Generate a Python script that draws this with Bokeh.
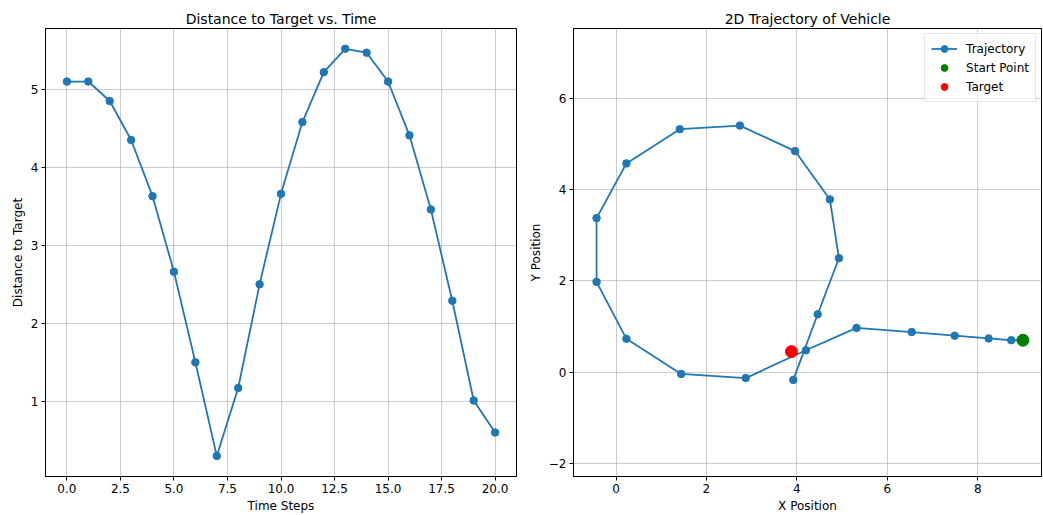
from bokeh.plotting import figure
from bokeh.layouts import row
from bokeh.models import FixedTicker, NumeralTickFormatter, CustomJSTickFormatter, Range1d
from bokeh.embed import file_html
from bokeh.resources import INLINE

# ---- data ----
time_steps = list(range(21))
distance = [5.10, 5.10, 4.85, 4.35, 3.63, 2.66, 1.50, 0.30, 1.17, 2.50, 3.66,
            4.58, 5.22, 5.52, 5.47, 5.10, 4.41, 3.46, 2.29, 1.01, 0.60]

traj_x = [9.00, 9.00, 8.74, 8.24, 7.49, 6.54, 5.32, 4.20, 2.87, 1.44, 0.23,
          -0.43, -0.43, 0.23, 1.41, 2.74, 3.96, 4.73, 4.93, 4.46, 3.92]
traj_y = [0.70, 0.70, 0.70, 0.74, 0.80, 0.88, 0.97, 0.48, -0.13, -0.04, 0.73,
          1.98, 3.38, 4.58, 5.33, 5.41, 4.85, 3.79, 2.50, 1.27, -0.17]

start_x = [9.00]
start_y = [0.70]
target_x = [3.88]
target_y = [0.45]

left_xticks = [0, 2.5, 5, 7.5, 10, 12.5, 15, 17.5, 20]
left_yticks = [1, 2, 3, 4, 5]
right_xticks = [0, 2, 4, 6, 8]
right_yticks = [-2, 0, 2, 4, 6]

FONT = "DejaVu Sans"
BLUE = "#1f77b4"


def style(p, xlabel, ylabel):
    p.title.text_font = FONT
    p.title.text_font_size = "14px"
    p.title.text_font_style = "normal"
    p.title.align = "center"
    p.title.standoff = 4
    p.title.text_color = "black"
    p.outline_line_color = "black"
    p.outline_line_width = 1
    p.outline_line_alpha = 1
    p.background_fill_color = "white"
    p.border_fill_color = "white"
    for ax in (p.xaxis[0], p.yaxis[0]):
        ax.axis_line_color = "black"
        ax.major_tick_line_color = "black"
        ax.major_tick_out = 4
        ax.major_tick_in = 0
        ax.minor_tick_line_color = None
        ax.major_label_text_font = FONT
        ax.major_label_text_font_size = "12px"
        ax.major_label_text_color = "black"
        ax.axis_label_text_font = FONT
        ax.axis_label_text_font_size = "12px"
        ax.axis_label_text_font_style = "normal"
        ax.axis_label_text_color = "black"
        ax.major_label_standoff = 3
        ax.axis_label_standoff = 3
    p.xaxis.axis_label = xlabel
    p.yaxis.axis_label = ylabel
    p.grid.grid_line_color = "#b0b0b0"
    p.grid.grid_line_alpha = 0.65
    p.grid.grid_line_width = 1


# ---- left: distance vs time ----
p1 = figure(width=525, height=515, output_backend="svg", toolbar_location=None,
            title="Distance to Target vs. Time",
            x_range=Range1d(-1.0, 21.0), y_range=Range1d(0.036, 5.78),
            min_border_left=45, min_border_right=9, min_border_top=28,
            min_border_bottom=0)
style(p1, "Time Steps", "Distance to Target")
p1.xaxis.ticker = FixedTicker(ticks=left_xticks)
p1.xaxis.formatter = NumeralTickFormatter(format="0.0")
p1.yaxis.ticker = FixedTicker(ticks=left_yticks)
p1.line(time_steps, distance, line_color=BLUE, line_width=1.8)
p1.scatter(time_steps, distance, size=7.5, fill_color=BLUE, line_color=BLUE)

# ---- right: 2D trajectory ----
p2 = figure(width=518, height=515, output_backend="svg", toolbar_location=None,
            title="2D Trajectory of Vehicle",
            x_range=Range1d(-0.94, 9.41), y_range=Range1d(-2.29, 7.54),
            min_border_left=47, min_border_right=2, min_border_top=28,
            min_border_bottom=0)
style(p2, "X Position", "Y Position")
p2.xaxis.ticker = FixedTicker(ticks=right_xticks)
p2.yaxis.ticker = FixedTicker(ticks=right_yticks)
p2.yaxis.formatter = CustomJSTickFormatter(
    code="return (tick < 0 ? '\u2212' : '') + Math.abs(tick).toString();")
p2.line(traj_x, traj_y, line_color=BLUE, line_width=1.8, legend_label="Trajectory")
p2.scatter(traj_x, traj_y, size=7.5, fill_color=BLUE, line_color=BLUE,
           legend_label="Trajectory")
p2.scatter(start_x, start_y, size=12, fill_color="green", line_color="green",
           legend_label="Start Point")
p2.scatter(target_x, target_y, size=12, fill_color="red", line_color="red",
           legend_label="Target")

lg = p2.legend[0]
lg.location = "top_right"
lg.border_line_color = "#cccccc"
lg.border_line_width = 1
lg.background_fill_alpha = 0.8
lg.label_text_font = FONT
lg.label_text_font_size = "12px"
lg.label_text_color = "black"
lg.glyph_width = 26
lg.glyph_height = 17
lg.label_height = 17
lg.label_standoff = 9
lg.spacing = 2
lg.padding = 6
lg.margin = 5

layout = row(p1, p2)
open("out.html", "w").write(file_html(layout, INLINE))
